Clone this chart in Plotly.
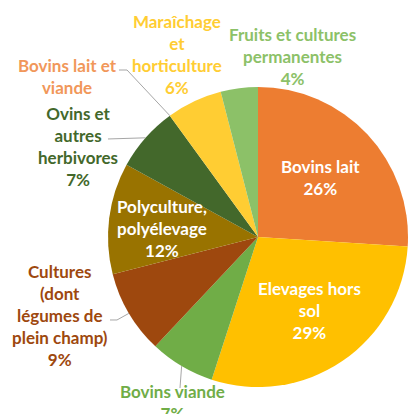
import numpy as np
import plotly.graph_objects as go

# data
labels = ["Bovins lait", "Elevages hors sol", "Bovins viande",
          "Cultures (dont légumes de plein champ)", "Polyculture, polyélevage",
          "Ovins et autres herbivores", "Bovins lait et viande",
          "Maraîchage et horticulture", "Fruits et cultures permanentes"]
values = [26, 29, 7, 9, 12, 7, 0, 6, 4]
label_text = ["Bovins lait", "Elevages hors<br>sol", "Bovins viande",
              "Cultures<br>(dont<br>légumes de<br>plein champ)", "Polyculture,<br>polyélevage",
              "Ovins et<br>autres<br>herbivores", "Bovins lait et<br>viande",
              "Maraîchage<br>et<br>horticulture", "Fruits et cultures<br>permanentes"]
show_pct = [True, True, True, True, True, True, False, True, True]

colors = ["#ED7D31", "#FFC000", "#70AD47", "#9E480E", "#997300",
          "#43682B", "#F1975A", "#FFCD33", "#8CC168"]

W, H = 410, 414
cx, cy, R = 258, 237, 150  # pie centre / radius in px

# label layout (pixel centre of each text block), inside -> white text
label_pos = [(320, 177), (309, 310), (172, 402), (60, 315), (162, 228),
             (78, 146), (67, 76), (177, 54), (292, 57)]
inside = [True, True, False, False, True, False, False, False, False]
# leader lines: (start, elbow) in px, None = no line
leaders = {2: [(180, 388), None], 3: [(110, 320), (117, 320)],
           5: [(108, 139), None], 6: [(119, 70), (127, 70)]}


def px(x):
    return x / W


def py(y):
    return 1 - y / H


fig = go.Figure(go.Pie(
    labels=labels, values=values, sort=False, direction="clockwise", rotation=0,
    marker=dict(colors=colors, line=dict(width=0)),
    textinfo="none", hoverinfo="label+percent", showlegend=False,
    domain=dict(x=[px(cx - R), px(cx + R)], y=[py(cy + R), py(cy - R)]),
))

total = sum(values)
cum = np.cumsum([0] + values)
annotations = []
shapes = []
for i, lab in enumerate(label_text):
    pct = round(100 * values[i] / total)
    txt = lab + (f"<br>{pct}%" if show_pct[i] else "")
    x, y = label_pos[i]
    annotations.append(dict(
        x=px(x), y=py(y), xref="paper", yref="paper", text=txt, showarrow=False,
        xanchor="center", yanchor="middle", align="center",
        font=dict(family="Lato", size=17, weight=700,
                  color="white" if inside[i] else colors[i])))
    if i in leaders:
        mid = (cum[i] + cum[i + 1]) / 2 / total * 2 * np.pi
        ex, ey = cx + R * np.sin(mid), cy - R * np.cos(mid)
        start, elbow = leaders[i]
        pts = [start] + ([elbow] if elbow else []) + [(ex, ey)]
        path = "M " + " L ".join(f"{px(a):.4f},{py(b):.4f}" for a, b in pts)
        shapes.append(dict(type="path", path=path, xref="paper", yref="paper",
                           line=dict(color="#A6A6A6", width=1)))

fig.update_layout(width=W, height=H, margin=dict(l=0, r=0, t=0, b=0),
                  paper_bgcolor="white", plot_bgcolor="white",
                  annotations=annotations, shapes=shapes)

# drop the default page margin so the chart sits at the window corner
fig.write_html("out.html", config={"displayModeBar": False},
               post_script="document.body.style.margin='0px';")
